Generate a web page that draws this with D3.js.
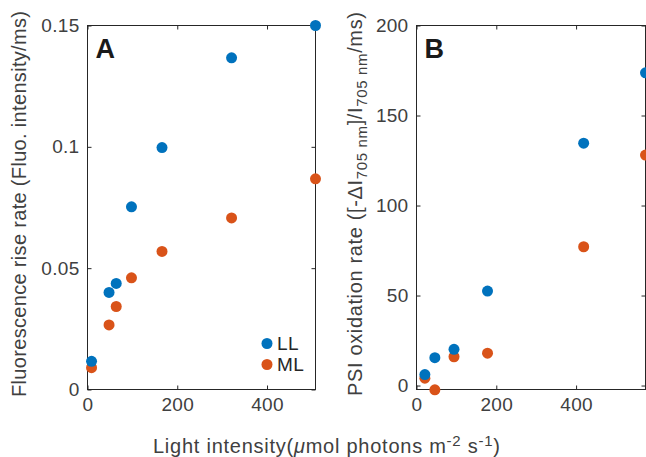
<!DOCTYPE html>
<html>
<head>
<meta charset="utf-8">
<script src="https://cdn.jsdelivr.net/npm/d3@7"></script>
<style>
  html, body { margin: 0; padding: 0; background: #fff; }
  svg { display: block; }
  text { font-family: "Liberation Sans", Arial, Helvetica, sans-serif; }
</style>
</head>
<body>
<svg id="chart" width="646" height="457"></svg>
<script>
// Panel A: fluorescence rise rate vs light intensity
const lightA = [9, 48, 64, 98, 166, 321, 508];
const riseLL = [0.0116, 0.040, 0.0437, 0.0753, 0.0997, 0.1367, 0.150];
const riseML = [0.009, 0.0266, 0.0342, 0.046, 0.0569, 0.0707, 0.0868];

// Panel B: PSI oxidation rate vs light intensity
const lightB = [21, 46, 94, 178, 419, 574];
const psiLL = [6.1, 15.5, 20.1, 52.5, 134.6, 173.7];
const psiML = [4.1, -2.4, 16, 18, 77.1, 128];

const ticksXA = [0, 200, 400];
const ticksYA = [0, 0.05, 0.1, 0.15];
const ticksXB = [0, 200, 400];
const ticksYB = [0, 50, 100, 150, 200];

const seriesNames = ["LL", "ML"];
const colors = { LL: "#0072BD", ML: "#D95319" };

const AXIS = "#262626";
const TEXT = "#404040";
const FS = 19;   // tick labels and legend
const LFS = 20;  // axis titles

const svg = d3.select("#chart");

function panel(opts) {
  const x = d3.scaleLinear().domain(opts.xDomain).range([opts.left, opts.right]);
  const y = d3.scaleLinear().domain(opts.yDomain).range([opts.bottom, opts.top]);
  const g = svg.append("g");

  const styleAxis = (sel, labels) => {
    sel.select(".domain").remove();
    sel.selectAll(".tick line").attr("stroke", AXIS);
    sel.selectAll(".tick text")
      .attr("fill", TEXT)
      .style("font-size", FS + "px")
      .style("letter-spacing", "0.3px")
      .style("font-family", '"Liberation Sans", Arial, sans-serif');
    if (!labels) sel.selectAll(".tick text").remove();
  };

  g.append("g").attr("transform", `translate(0,${opts.bottom})`)
    .call(d3.axisBottom(x).tickValues(opts.xTicks).tickSize(-4).tickPadding(8).tickFormat(d3.format("d")))
    .call(s => styleAxis(s, true));
  g.append("g").attr("transform", `translate(0,${opts.top})`)
    .call(d3.axisTop(x).tickValues(opts.xTicks).tickSize(-4))
    .call(s => styleAxis(s, false));
  g.append("g").attr("transform", `translate(${opts.left},0)`)
    .call(d3.axisLeft(y).tickValues(opts.yTicks).tickSize(-4).tickPadding(8).tickFormat(opts.yFormat))
    .call(s => styleAxis(s, true));
  g.append("g").attr("transform", `translate(${opts.right},0)`)
    .call(d3.axisRight(y).tickValues(opts.yTicks).tickSize(-4))
    .call(s => styleAxis(s, false));

  // axes box
  g.append("rect")
    .attr("x", opts.left).attr("y", opts.top)
    .attr("width", opts.right - opts.left).attr("height", opts.bottom - opts.top)
    .attr("fill", "none").attr("stroke", AXIS).attr("stroke-width", 1);

  // scatter markers (ML first so LL sits on top where they overlap)
  [["ML", opts.ml], ["LL", opts.ll]].forEach(([name, vals]) => {
    g.append("g").selectAll("circle")
      .data(vals.map((v, i) => [opts.xs[i], v]))
      .join("circle")
      .attr("cx", d => x(d[0]))
      .attr("cy", d => y(d[1]))
      .attr("r", 5.5)
      .attr("fill", colors[name]);
  });

  // panel letter
  g.append("text")
    .attr("x", opts.left + 8).attr("y", opts.top + 32)
    .attr("fill", "#1a1a1a")
    .style("font-size", "27px").style("font-weight", "bold")
    .style("letter-spacing", "1px")
    .text(opts.letter);

  return { x, y, g };
}

const pA = panel({
  left: 87.5, right: 315.5, top: 25.5, bottom: 389.5,
  xDomain: [0, 508], yDomain: [0, 0.15],
  xTicks: ticksXA, yTicks: ticksYA,
  yFormat: d => (d === 0 ? "0" : String(d)),
  xs: lightA, ll: riseLL, ml: riseML, letter: "A"
});

const pB = panel({
  left: 416.5, right: 645.5, top: 25.5, bottom: 389.5,
  xDomain: [0, 574], yDomain: [-2.2, 200],
  xTicks: ticksXB, yTicks: ticksYB,
  yFormat: d3.format("d"),
  xs: lightB, ll: psiLL, ml: psiML, letter: "B"
});

// legend inside panel A, lower right
seriesNames.forEach((name, i) => {
  const ly = 343.5 + i * 21;
  pA.g.append("circle").attr("cx", 267).attr("cy", ly).attr("r", 5.5).attr("fill", colors[name]);
  pA.g.append("text").attr("x", 277).attr("y", ly).attr("dy", "0.36em")
    .attr("fill", AXIS).style("font-size", FS + "px").style("letter-spacing", "0.5px").text(name);
});

// y label, panel A
svg.append("text")
  .attr("transform", "translate(26,204) rotate(-90)")
  .attr("text-anchor", "middle")
  .attr("textLength", 386).attr("lengthAdjust", "spacing")
  .attr("fill", TEXT).style("font-size", LFS + "px")
  .text("Fluorescence rise rate (Fluo. intensity/ms)");

// y label, panel B with subscripts
const yb = svg.append("text")
  .attr("transform", "translate(362,204) rotate(-90)")
  .attr("text-anchor", "middle")
  .attr("textLength", 384).attr("lengthAdjust", "spacing")
  .attr("fill", TEXT).style("font-size", LFS + "px");
yb.append("tspan").text("PSI oxidation rate ([-\u0394I");
yb.append("tspan").attr("dy", 5).style("font-size", "15px").text("705 nm");
yb.append("tspan").attr("dy", -5).text("]/I");
yb.append("tspan").attr("dy", 5).style("font-size", "15px").text("705 nm");
yb.append("tspan").attr("dy", -5).text("/ms)");

// shared x label
const xl = svg.append("text")
  .attr("x", 153).attr("y", 453)
  .attr("textLength", 347).attr("lengthAdjust", "spacing")
  .attr("fill", TEXT).style("font-size", LFS + "px");
xl.append("tspan").text("Light intensity(");
xl.append("tspan").style("font-style", "italic").text("\u03bc");
xl.append("tspan").text("mol photons m");
xl.append("tspan").attr("dy", -7).style("font-size", "15px").text("-2");
xl.append("tspan").attr("dy", 7).text(" s");
xl.append("tspan").attr("dy", -7).style("font-size", "15px").text("-1");
xl.append("tspan").attr("dy", 7).text(")");
</script>
</body>
</html>
